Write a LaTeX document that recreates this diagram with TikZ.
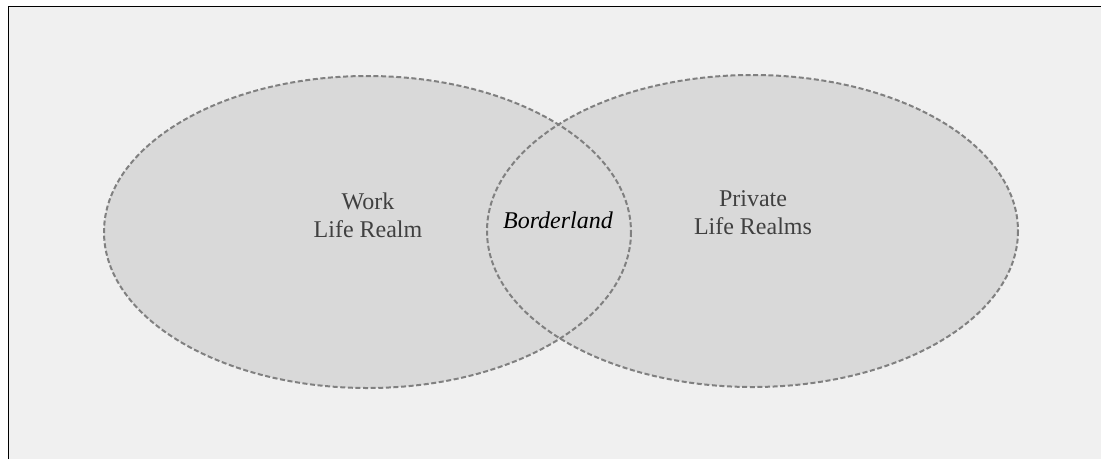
\documentclass[tikz,border=0pt]{standalone}
\usepackage{fontspec}
\setmainfont{Liberation Serif}
\definecolor{panelbg}{HTML}{F0F0F0}
\definecolor{realmfill}{HTML}{D9D9D9}
\definecolor{realmline}{HTML}{808080}
\definecolor{labeltext}{HTML}{404040}
\begin{document}
\begin{tikzpicture}[x=1pt,y=-1pt,
  realm/.style={fill=realmfill},
  rim/.style={draw=realmline, line width=2pt, dash pattern=on 5pt off 2.6pt},
  realmlabel/.style={text=labeltext, align=center, anchor=base, inner sep=0pt,
    font=\fontsize{24}{28}\selectfont},
  borderlabel/.style={text=black, anchor=base, inner sep=0pt,
    font=\fontsize{24}{28}\selectfont\itshape}]
  \useasboundingbox (0,0) rectangle (1101,459);
  \fill[white] (0,0) rectangle (1101,459);
  % panel with a frame on its left and top edges
  \fill[panelbg] (8.5,6.5) rectangle (1101,459);
  \draw[black, line width=1pt] (8.5,459) -- (8.5,6.5) -- (1101,6.5);
  % the two realms: fills first, then both dashed rims on top
  \fill[realm] (367.5,232) ellipse [x radius=263.5, y radius=156];
  \fill[realm] (752.5,231) ellipse [x radius=265.5, y radius=156];
  \draw[rim] (367.5,232) ellipse [x radius=263.5, y radius=156];
  \draw[rim] (752.5,231) ellipse [x radius=265.5, y radius=156];
  % labels (base anchor sits on the last line)
  \node[realmlabel] (work) at (368,237) {Work\\Life Realm};
  \node[borderlabel] (border) at (558,228) {Borderland};
  \node[realmlabel] (private) at (753,234) {Private\\Life Realms};
\end{tikzpicture}
\end{document}
